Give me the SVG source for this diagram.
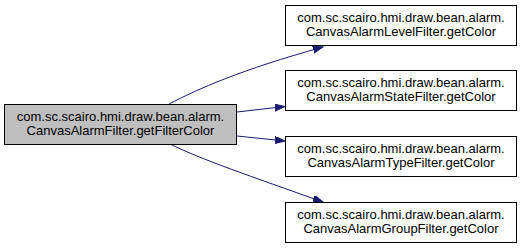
<svg xmlns="http://www.w3.org/2000/svg" width="523" height="248" viewBox="0 0 523 248">
  <style>
    .node rect { stroke: #000; stroke-width: 1; }
    .caller rect { fill: #bfbfbf; }
    .callee rect { fill: #fff; }
    .node text { font-family: "Liberation Sans", Arial, sans-serif; font-size: 13px; fill: #000; text-anchor: middle; }
    .edge { fill: none; stroke: #191970; stroke-width: 1; }
  </style>
  <defs>
    <marker id="arrow" markerUnits="userSpaceOnUse" markerWidth="11" markerHeight="8" refX="10" refY="3.5" orient="auto">
      <path d="M0,0 L10,3.5 L0,7 Z" fill="#191970" stroke="#191970" stroke-width="1"/>
    </marker>
  </defs>

  <g id="edges">
    <path class="edge" d="M169,104 C198,89 240,70 323,47" marker-end="url(#arrow)"/>
    <path class="edge" d="M237,112 L285,106.5" marker-end="url(#arrow)"/>
    <path class="edge" d="M237,136 L285,141" marker-end="url(#arrow)"/>
    <path class="edge" d="M170,144 C200,159 250,176 323,202" marker-end="url(#arrow)"/>
  </g>

  <g id="getFilterColor" class="node caller">
    <rect x="4.5" y="104.5" width="232" height="40"/>
    <text x="120.5" y="121">com.sc.scairo.hmi.draw.bean.alarm.</text>
    <text x="120.5" y="135">CanvasAlarmFilter.getFilterColor</text>
  </g>

  <g id="levelGetColor" class="node callee">
    <rect x="285.5" y="5.5" width="231" height="40"/>
    <text x="401" y="22">com.sc.scairo.hmi.draw.bean.alarm.</text>
    <text x="401" y="36">CanvasAlarmLevelFilter.getColor</text>
  </g>

  <g id="stateGetColor" class="node callee">
    <rect x="285.5" y="70.5" width="231" height="40"/>
    <text x="401" y="87">com.sc.scairo.hmi.draw.bean.alarm.</text>
    <text x="401" y="101">CanvasAlarmStateFilter.getColor</text>
  </g>

  <g id="typeGetColor" class="node callee">
    <rect x="285.5" y="136.5" width="231" height="40"/>
    <text x="401" y="153">com.sc.scairo.hmi.draw.bean.alarm.</text>
    <text x="401" y="167">CanvasAlarmTypeFilter.getColor</text>
  </g>

  <g id="groupGetColor" class="node callee">
    <rect x="285.5" y="202.5" width="231" height="40"/>
    <text x="401" y="219">com.sc.scairo.hmi.draw.bean.alarm.</text>
    <text x="401" y="233">CanvasAlarmGroupFilter.getColor</text>
  </g>
</svg>
